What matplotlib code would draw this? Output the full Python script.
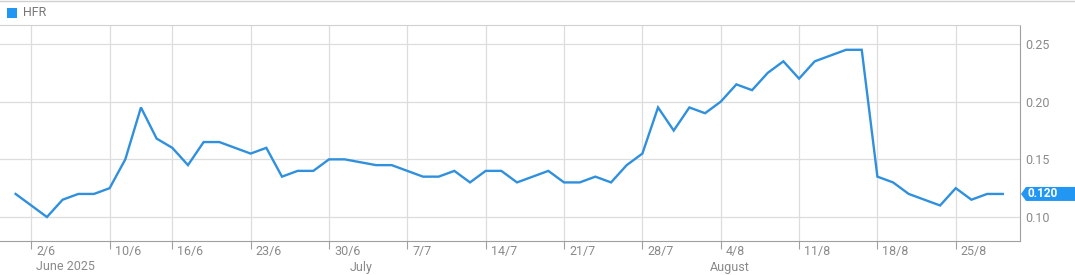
import pandas as pd
import matplotlib.pyplot as plt
import matplotlib.transforms as mtransforms
from matplotlib.patches import Polygon, Rectangle
from matplotlib.lines import Line2D

# trading days shown on the chart (9 June was not traded)
dates = pd.bdate_range("2025-05-30", "2025-08-28")
dates = dates[dates != pd.Timestamp("2025-06-09")]

hfr = [
    0.120, 0.110, 0.100, 0.115, 0.120, 0.120, 0.125, 0.150, 0.195, 0.168,
    0.160, 0.145, 0.165, 0.165, 0.160, 0.155, 0.160, 0.135, 0.140, 0.140,
    0.150, 0.150, 0.1475, 0.145, 0.145, 0.140, 0.135, 0.135, 0.140, 0.130,
    0.140, 0.140, 0.130, 0.135, 0.140, 0.130, 0.130, 0.135, 0.130, 0.145,
    0.155, 0.195, 0.175, 0.195, 0.190, 0.200, 0.215, 0.210, 0.225, 0.235,
    0.220, 0.235, 0.240, 0.245, 0.245, 0.135, 0.130, 0.120, 0.115, 0.110,
    0.125, 0.115, 0.120, 0.120,
]
series_name = "HFR"
y_ticks = [0.10, 0.15, 0.20, 0.25]

line_color = "#3090dd"
legend_color = "#2196f3"
text_color = "#8a8a8a"
grid_color = "#dddddd"
axis_color = "#a0a0a0"
fs = 9

plt.rcParams["font.family"] = ["Roboto", "DejaVu Sans"]

W, H = 1075, 275
fig = plt.figure(figsize=(W / 100, H / 100), dpi=100)
ax = fig.add_axes([0, (H - 241) / H, 1020 / W, (241 - 25) / H])

x = list(range(len(dates)))
ax.plot(x, hfr, color=line_color, lw=1.7, solid_joinstyle="miter")

ax.set_xlim(-0.996, 64.1)
ax.set_ylim(0.0792, 0.2665)

# weekly ticks: first trading day of each full week
week_idx = []
for i in range(1, len(dates)):
    if dates[i].isocalendar().week != dates[i - 1].isocalendar().week:
        week_idx.append(i)
ax.set_xticks(week_idx)
ax.set_xticklabels([])
ax.tick_params(axis="x", length=6, color=axis_color, width=0.8)

ax.yaxis.tick_right()
ax.set_yticks(y_ticks)
ax.set_yticklabels([f"{v:.2f}" for v in y_ticks], color=text_color, fontsize=fs)
ax.tick_params(axis="y", length=0, pad=4)

ax.grid(True, color=grid_color, lw=0.9)
ax.set_axisbelow(True)
ax.spines["left"].set_visible(False)
ax.spines["top"].set_color("#d0d0d0")
ax.spines["bottom"].set_color(axis_color)
ax.spines["right"].set_color(axis_color)

# day/month labels sit just right of the tick
blend = mtransforms.blended_transform_factory(ax.transData, ax.transAxes)
for i in week_idx:
    d = dates[i]
    tr = mtransforms.offset_copy(blend, fig=fig, x=5, y=-11, units="dots")
    ax.text(i, 0, f"{d.day}/{d.month}", transform=tr, ha="left", va="center",
            color=text_color, fontsize=fs, clip_on=False)

# month names under the first trading day of each month
for i in range(1, len(dates)):
    if dates[i].month != dates[i - 1].month:
        d = dates[i]
        label = d.strftime("%B")
        if d.month == 6:
            label += " 2025"
        tr = mtransforms.offset_copy(blend, fig=fig, x=5, y=-26, units="dots")
        ax.text(i, 0, label, transform=tr, ha="left", va="center",
                color=text_color, fontsize=fs, clip_on=False)

# top border and legend
fig.add_artist(Line2D([0, 1], [(H - 1) / H, (H - 1) / H], transform=fig.transFigure,
                      color="#d0d0d0", lw=1))
fig.add_artist(Rectangle((7 / W, (H - 18) / H), 10 / W, 10 / H, transform=fig.transFigure,
                         facecolor=legend_color, edgecolor="none"))
fig.text(23 / W, (H - 13) / H, series_name, color="#777777", fontsize=fs,
         ha="left", va="center")

# last value tag on the right axis
last = hfr[-1]
_, ypix = ax.transData.transform((0, last))
tip, x0, x1 = 1021, 1026, W
hh = 7
pts = [(tip, ypix), (x0, ypix + hh), (x1, ypix + hh), (x1, ypix - hh), (x0, ypix - hh)]
pts = [(px / W, py / H) for px, py in pts]
fig.add_artist(Polygon(pts, closed=True, transform=fig.transFigure,
                       facecolor=legend_color, edgecolor="none"))
fig.text(1027.5 / W, ypix / H, f"{last:.3f}", color="white", fontsize=8.5,
         fontweight="bold", ha="left", va="center")

fig.savefig("out.png", dpi=100)
